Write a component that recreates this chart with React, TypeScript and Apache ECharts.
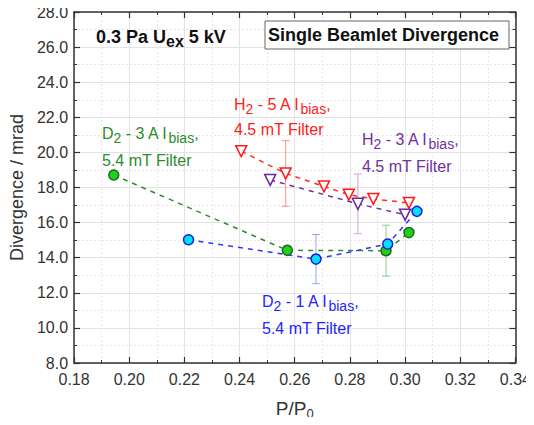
import React, { useEffect, useRef } from "react";
import * as echarts from "echarts";

const xTicks = [0.18, 0.2, 0.22, 0.24, 0.26, 0.28, 0.3, 0.32, 0.34];
const yTicks = [8, 10, 12, 14, 16, 18, 20, 22, 24, 26, 28];

const greenX = [0.1944, 0.2573, 0.2931, 0.3014];
const greenY = [18.71, 14.42, 14.40, 15.43];
const greenErr = [null, null, 1.45, null];

const blueX = [0.2215, 0.2677, 0.2937, 0.3043];
const blueY = [15.02, 13.92, 14.78, 16.64];
const blueErr = [null, 1.4, null, null];

const redX = [0.2406, 0.2567, 0.2706, 0.2796, 0.2885, 0.3014];
const redY = [20.07, 18.80, 18.06, 17.59, 17.35, 17.12];
const redErr = [null, 1.87, null, null, null, null];

const purpleX = [0.2511, 0.2829, 0.3000];
const purpleY = [18.43, 17.07, 16.45];
const purpleErr = [null, 1.7, null];

const FONT = "Liberation Sans, Arial, sans-serif";

function pairs(xs: number[], ys: number[]) {
  return xs.map((x, i) => [x, ys[i]]);
}

function errData(xs: number[], ys: number[], es: (number | null)[]) {
  const out: number[][] = [];
  xs.forEach((x, i) => {
    const e = es[i];
    if (e != null) out.push([x, ys[i] - e, ys[i] + e]);
  });
  return out;
}

function errSeries(xs: number[], ys: number[], es: (number | null)[], color: string) {
  return {
    type: "custom",
    silent: true,
    z: 1,
    data: errData(xs, ys, es),
    renderItem: (params: any, api: any) => {
      const x = api.value(0);
      const lo = api.coord([x, api.value(1)]);
      const hi = api.coord([x, api.value(2)]);
      const w = 4;
      const st = { stroke: color, lineWidth: 1 };
      return {
        type: "group",
        children: [
          { type: "line", shape: { x1: lo[0], y1: lo[1], x2: hi[0], y2: hi[1] }, style: st },
          { type: "line", shape: { x1: lo[0] - w, y1: lo[1], x2: lo[0] + w, y2: lo[1] }, style: st },
          { type: "line", shape: { x1: hi[0] - w, y1: hi[1], x2: hi[0] + w, y2: hi[1] }, style: st },
        ],
      };
    },
  };
}

function lineSeries(
  xs: number[],
  ys: number[],
  lineColor: string,
  symbol: string,
  size: number,
  fill: string,
  border: string,
  rotate = 0
) {
  return {
    type: "line",
    data: pairs(xs, ys),
    z: 3,
    symbol,
    symbolSize: size,
    symbolRotate: rotate,
    showAllSymbol: true,
    lineStyle: { color: lineColor, width: 1.5, type: [5, 5] },
    itemStyle: { color: fill, borderColor: border, borderWidth: 1.5 },
  };
}

const rich = (color: string, bold = false, size = 16) => ({
  a: { fontSize: size, fontFamily: FONT, fill: color, color, fontWeight: bold ? "bold" : "normal", lineHeight: 24, verticalAlign: "middle" },
  s: { fontSize: size - 2, fontFamily: FONT, fill: color, color, fontWeight: bold ? "bold" : "normal", lineHeight: 24, verticalAlign: "bottom" },
});

function label(x: number, y: number, text: string, color: string, bold = false, size = 16) {
  return {
    type: "text",
    x,
    y,
    z: 10,
    style: {
      text,
      rich: rich(color, bold, size),
      verticalAlign: "middle",
      align: "left",
      fill: color,
    },
  };
}

export default function App() {
  const ref = useRef<HTMLDivElement>(null);
  useEffect(() => {
    if (!ref.current) return;
    const chart = echarts.init(ref.current, undefined, { renderer: "svg" });
    const axisLine = { show: true, lineStyle: { color: "#333", width: 1.5 } };
    const common = {
      type: "value",
      axisLine,
      axisTick: { show: true, inside: true, length: 6, lineStyle: { color: "#333", width: 1.2 } },
      minorTick: { show: true, splitNumber: 2, length: 3, lineStyle: { color: "#333", width: 1 } },
    };
    chart.setOption({
      animation: false,
      backgroundColor: "#fff",
      grid: { left: 74, right: 13, top: 12, bottom: 55, containLabel: false },
      xAxis: [
        {
          ...common,
          min: xTicks[0],
          max: xTicks[xTicks.length - 1],
          interval: 0.02,
          axisLabel: {
            color: "#333",
            fontSize: 16,
            fontFamily: FONT,
            margin: 8,
            formatter: (v: number) => v.toFixed(2),
          },
          splitLine: { show: true, lineStyle: { color: "#e3e3e3", width: 1 } },
          minorSplitLine: { show: true, lineStyle: { color: "#e6e6e6", width: 1, type: [2, 2] } },
          name: "{a|P/P}{s|0}",
          nameLocation: "middle",
          nameGap: 33,
          nameTextStyle: {
            rich: {
              a: { fontSize: 19, fontFamily: FONT, color: "#333", lineHeight: 24, verticalAlign: "middle" },
              s: { fontSize: 13, fontFamily: FONT, color: "#333", lineHeight: 24, verticalAlign: "bottom" },
            },
          },
        },
        {
          ...common,
          position: "top",
          min: xTicks[0],
          max: xTicks[xTicks.length - 1],
          interval: 0.02,
          axisLabel: { show: false },
          splitLine: { show: false },
        },
      ],
      yAxis: [
        {
          ...common,
          min: yTicks[0],
          max: yTicks[yTicks.length - 1],
          interval: 2,
          axisLabel: {
            color: "#333",
            fontSize: 16,
            fontFamily: FONT,
            margin: 6,
            formatter: (v: number) => v.toFixed(1),
          },
          splitLine: { show: true, lineStyle: { color: "#e3e3e3", width: 1 } },
          minorSplitLine: { show: true, lineStyle: { color: "#e6e6e6", width: 1, type: [2, 2] } },
          name: "Divergence / mrad",
          nameLocation: "middle",
          nameGap: 48,
          nameTextStyle: { fontSize: 18, fontFamily: FONT, color: "#333" },
        },
        {
          ...common,
          position: "right",
          min: yTicks[0],
          max: yTicks[yTicks.length - 1],
          interval: 2,
          axisLabel: { show: false },
          splitLine: { show: false },
        },
      ],
      series: [
        errSeries(greenX, greenY, greenErr, "#8fc98f"),
        errSeries(blueX, blueY, blueErr, "#9aa0ff"),
        errSeries(redX, redY, redErr, "#ff9090"),
        errSeries(purpleX, purpleY, purpleErr, "#c9a8d8"),
        lineSeries(greenX, greenY, "#2e8b2e", "circle", 10, "#1fd01f", "#1a6e1a"),
        lineSeries(blueX, blueY, "#3333ff", "circle", 10, "#00e0ff", "#2020e0"),
        lineSeries(redX, redY, "#ff2a2a", "triangle", 11, "#ffffff", "#ff1a1a", 180),
        lineSeries(purpleX, purpleY, "#7030a0", "triangle", 11, "#ffffff", "#6a2a9a", 180),
      ],
      graphic: [
        label(96, 37, "{a|0.3 Pa U}{s|ex}{a| 5 kV}", "#111", true, 18),
        {
          type: "rect",
          z: 9,
          shape: { x: 265, y: 21, width: 244, height: 28 },
          style: { fill: "#fff", stroke: "#666", lineWidth: 1 },
        },
        label(268, 35, "{a|Single Beamlet Divergence}", "#111", true, 18),
        label(102, 133, "{a|D}{s|2}{a| - 3 A I}{s|bias}{a|,}", "#2e8b2e"),
        label(102, 160, "{a|5.4 mT Filter}", "#2e8b2e"),
        label(234, 104, "{a|H}{s|2}{a| - 5 A I}{s|bias}{a|,}", "#ff2020"),
        label(234, 129, "{a|4.5 mT Filter}", "#ff2020"),
        label(362, 139, "{a|H}{s|2}{a| - 3 A I}{s|bias}{a|,}", "#7030a0"),
        label(362, 166, "{a|4.5 mT Filter}", "#7030a0"),
        label(262, 301, "{a|D}{s|2}{a| - 1 A I}{s|bias}{a|,}", "#2424ff"),
        label(262, 328, "{a|5.4 mT Filter}", "#2424ff"),
      ],
    });
    return () => chart.dispose();
  }, []);
  return <div ref={ref} style={{ width: 534, height: 425, margin: -8 }} />;
}
